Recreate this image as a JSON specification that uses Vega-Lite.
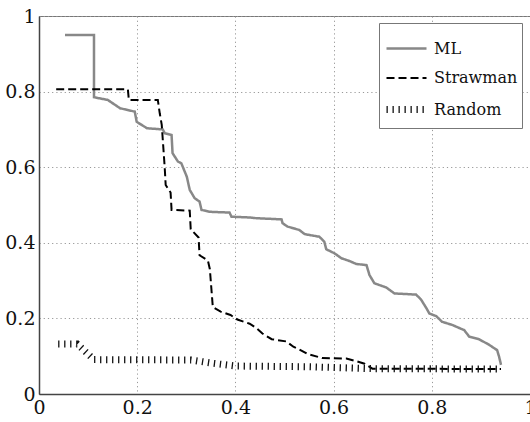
{
  "$schema": "https://vega.github.io/schema/vega-lite/v6.json",
  "autosize": "none",
  "padding": {"left": 39, "top": 16, "right": 0, "bottom": 28},
  "width": 491,
  "height": 378,
  "background": "white",
  "config": {
    "view": {"stroke": "#777", "strokeWidth": 1},
    "font": "DejaVu Serif",
    "legend": {"labelFont": "DejaVu Serif"},
    "axis": {
      "labelFont": "DejaVu Serif",
      "labelFontSize": 19,
      "labelColor": "#111",
      "grid": true,
      "gridColor": "#999",
      "gridDash": [1.2, 3],
      "gridWidth": 1,
      "gridOpacity": 1,
      "domainColor": "#444",
      "domainWidth": 1.5,
      "ticks": false,
      "title": null
    }
  },
  "data": {
    "values": [
      {"series": "ML", "x": 0.053, "y": 0.95},
      {"series": "ML", "x": 0.112, "y": 0.95},
      {"series": "ML", "x": 0.112, "y": 0.785},
      {"series": "ML", "x": 0.140, "y": 0.778},
      {"series": "ML", "x": 0.165, "y": 0.756},
      {"series": "ML", "x": 0.195, "y": 0.747},
      {"series": "ML", "x": 0.199, "y": 0.72},
      {"series": "ML", "x": 0.220, "y": 0.703},
      {"series": "ML", "x": 0.252, "y": 0.70},
      {"series": "ML", "x": 0.256, "y": 0.69},
      {"series": "ML", "x": 0.270, "y": 0.685},
      {"series": "ML", "x": 0.272, "y": 0.637},
      {"series": "ML", "x": 0.283, "y": 0.615},
      {"series": "ML", "x": 0.290, "y": 0.61},
      {"series": "ML", "x": 0.301, "y": 0.575},
      {"series": "ML", "x": 0.307, "y": 0.54},
      {"series": "ML", "x": 0.317, "y": 0.518},
      {"series": "ML", "x": 0.327, "y": 0.509},
      {"series": "ML", "x": 0.331, "y": 0.487},
      {"series": "ML", "x": 0.348, "y": 0.482},
      {"series": "ML", "x": 0.388, "y": 0.48},
      {"series": "ML", "x": 0.392, "y": 0.469},
      {"series": "ML", "x": 0.429, "y": 0.467},
      {"series": "ML", "x": 0.443, "y": 0.465},
      {"series": "ML", "x": 0.494, "y": 0.462},
      {"series": "ML", "x": 0.496, "y": 0.452},
      {"series": "ML", "x": 0.506, "y": 0.443},
      {"series": "ML", "x": 0.530, "y": 0.434},
      {"series": "ML", "x": 0.541, "y": 0.423},
      {"series": "ML", "x": 0.571, "y": 0.416},
      {"series": "ML", "x": 0.581, "y": 0.403},
      {"series": "ML", "x": 0.585, "y": 0.383},
      {"series": "ML", "x": 0.602, "y": 0.372},
      {"series": "ML", "x": 0.616, "y": 0.359},
      {"series": "ML", "x": 0.632, "y": 0.352},
      {"series": "ML", "x": 0.646, "y": 0.344},
      {"series": "ML", "x": 0.667, "y": 0.341},
      {"series": "ML", "x": 0.673, "y": 0.315},
      {"series": "ML", "x": 0.683, "y": 0.293},
      {"series": "ML", "x": 0.707, "y": 0.282},
      {"series": "ML", "x": 0.724, "y": 0.266},
      {"series": "ML", "x": 0.768, "y": 0.263},
      {"series": "ML", "x": 0.778, "y": 0.25},
      {"series": "ML", "x": 0.789, "y": 0.227},
      {"series": "ML", "x": 0.795, "y": 0.213},
      {"series": "ML", "x": 0.809, "y": 0.206},
      {"series": "ML", "x": 0.821, "y": 0.191},
      {"series": "ML", "x": 0.841, "y": 0.183},
      {"series": "ML", "x": 0.866, "y": 0.169},
      {"series": "ML", "x": 0.876, "y": 0.152},
      {"series": "ML", "x": 0.896, "y": 0.145},
      {"series": "ML", "x": 0.917, "y": 0.130},
      {"series": "ML", "x": 0.933, "y": 0.116},
      {"series": "ML", "x": 0.937, "y": 0.099},
      {"series": "ML", "x": 0.941, "y": 0.077},

      {"series": "Strawman", "x": 0.035, "y": 0.806},
      {"series": "Strawman", "x": 0.181, "y": 0.806},
      {"series": "Strawman", "x": 0.183, "y": 0.778},
      {"series": "Strawman", "x": 0.242, "y": 0.778},
      {"series": "Strawman", "x": 0.246, "y": 0.742},
      {"series": "Strawman", "x": 0.250, "y": 0.712},
      {"series": "Strawman", "x": 0.256, "y": 0.60},
      {"series": "Strawman", "x": 0.258, "y": 0.553},
      {"series": "Strawman", "x": 0.268, "y": 0.533},
      {"series": "Strawman", "x": 0.270, "y": 0.487},
      {"series": "Strawman", "x": 0.307, "y": 0.485},
      {"series": "Strawman", "x": 0.309, "y": 0.436},
      {"series": "Strawman", "x": 0.325, "y": 0.414},
      {"series": "Strawman", "x": 0.327, "y": 0.367},
      {"series": "Strawman", "x": 0.344, "y": 0.353},
      {"series": "Strawman", "x": 0.348, "y": 0.33},
      {"series": "Strawman", "x": 0.354, "y": 0.23},
      {"series": "Strawman", "x": 0.370, "y": 0.218},
      {"series": "Strawman", "x": 0.390, "y": 0.209},
      {"series": "Strawman", "x": 0.404, "y": 0.197},
      {"series": "Strawman", "x": 0.429, "y": 0.186},
      {"series": "Strawman", "x": 0.443, "y": 0.174},
      {"series": "Strawman", "x": 0.455, "y": 0.160},
      {"series": "Strawman", "x": 0.474, "y": 0.145},
      {"series": "Strawman", "x": 0.504, "y": 0.139},
      {"series": "Strawman", "x": 0.518, "y": 0.125},
      {"series": "Strawman", "x": 0.530, "y": 0.118},
      {"series": "Strawman", "x": 0.547, "y": 0.106},
      {"series": "Strawman", "x": 0.577, "y": 0.095},
      {"series": "Strawman", "x": 0.626, "y": 0.094},
      {"series": "Strawman", "x": 0.648, "y": 0.086},
      {"series": "Strawman", "x": 0.663, "y": 0.080},
      {"series": "Strawman", "x": 0.679, "y": 0.067},
      {"series": "Strawman", "x": 0.941, "y": 0.066},

      {"series": "Random", "x": 0.039, "y": 0.132},
      {"series": "Random", "x": 0.078, "y": 0.132},
      {"series": "Random", "x": 0.112, "y": 0.091},
      {"series": "Random", "x": 0.310, "y": 0.090},
      {"series": "Random", "x": 0.350, "y": 0.082},
      {"series": "Random", "x": 0.400, "y": 0.074},
      {"series": "Random", "x": 0.550, "y": 0.072},
      {"series": "Random", "x": 0.680, "y": 0.067},
      {"series": "Random", "x": 0.941, "y": 0.066}
    ]
  },
  "mark": {"type": "line", "strokeCap": "butt", "strokeJoin": "miter"},
  "encoding": {
    "x": {
      "field": "x", "type": "quantitative",
      "scale": {"domain": [0, 1], "nice": false},
      "axis": {"values": [0, 0.2, 0.4, 0.6, 0.8, 1], "format": "~g", "labelPadding": 4, "labelFlush": false}
    },
    "y": {
      "field": "y", "type": "quantitative",
      "scale": {"domain": [0, 1], "nice": false},
      "axis": {"values": [0, 0.2, 0.4, 0.6, 0.8, 1], "format": "~g", "labelPadding": 4}
    },
    "order": {"field": "x"},
    "color": {
      "field": "series", "type": "nominal",
      "scale": {"domain": ["ML", "Strawman", "Random"], "range": ["#888888", "#000000", "#111111"]},
      "legend": {
        "title": null,
        "orient": "none",
        "legendX": 340,
        "legendY": 7,
        "symbolType": "stroke",
        "symbolSize": 1600,
        "labelFont": "DejaVu Serif",
        "labelFontSize": 16,
        "labelColor": "#111",
        "labelOffset": 4,
        "rowPadding": -4.5,
        "padding": 4,
        "strokeColor": "#777",
        "fillColor": "white"
      }
    },
    "strokeDash": {
      "field": "series", "type": "nominal",
      "scale": {"domain": ["ML", "Strawman", "Random"], "range": [[1, 0], [8, 4], [1.3, 4.7]]},
      "legend": null
    },
    "strokeWidth": {
      "field": "series", "type": "nominal",
      "scale": {"type": "ordinal", "domain": ["ML", "Strawman", "Random"], "range": [2.5, 2, 7]},
      "legend": null
    }
  }
}
